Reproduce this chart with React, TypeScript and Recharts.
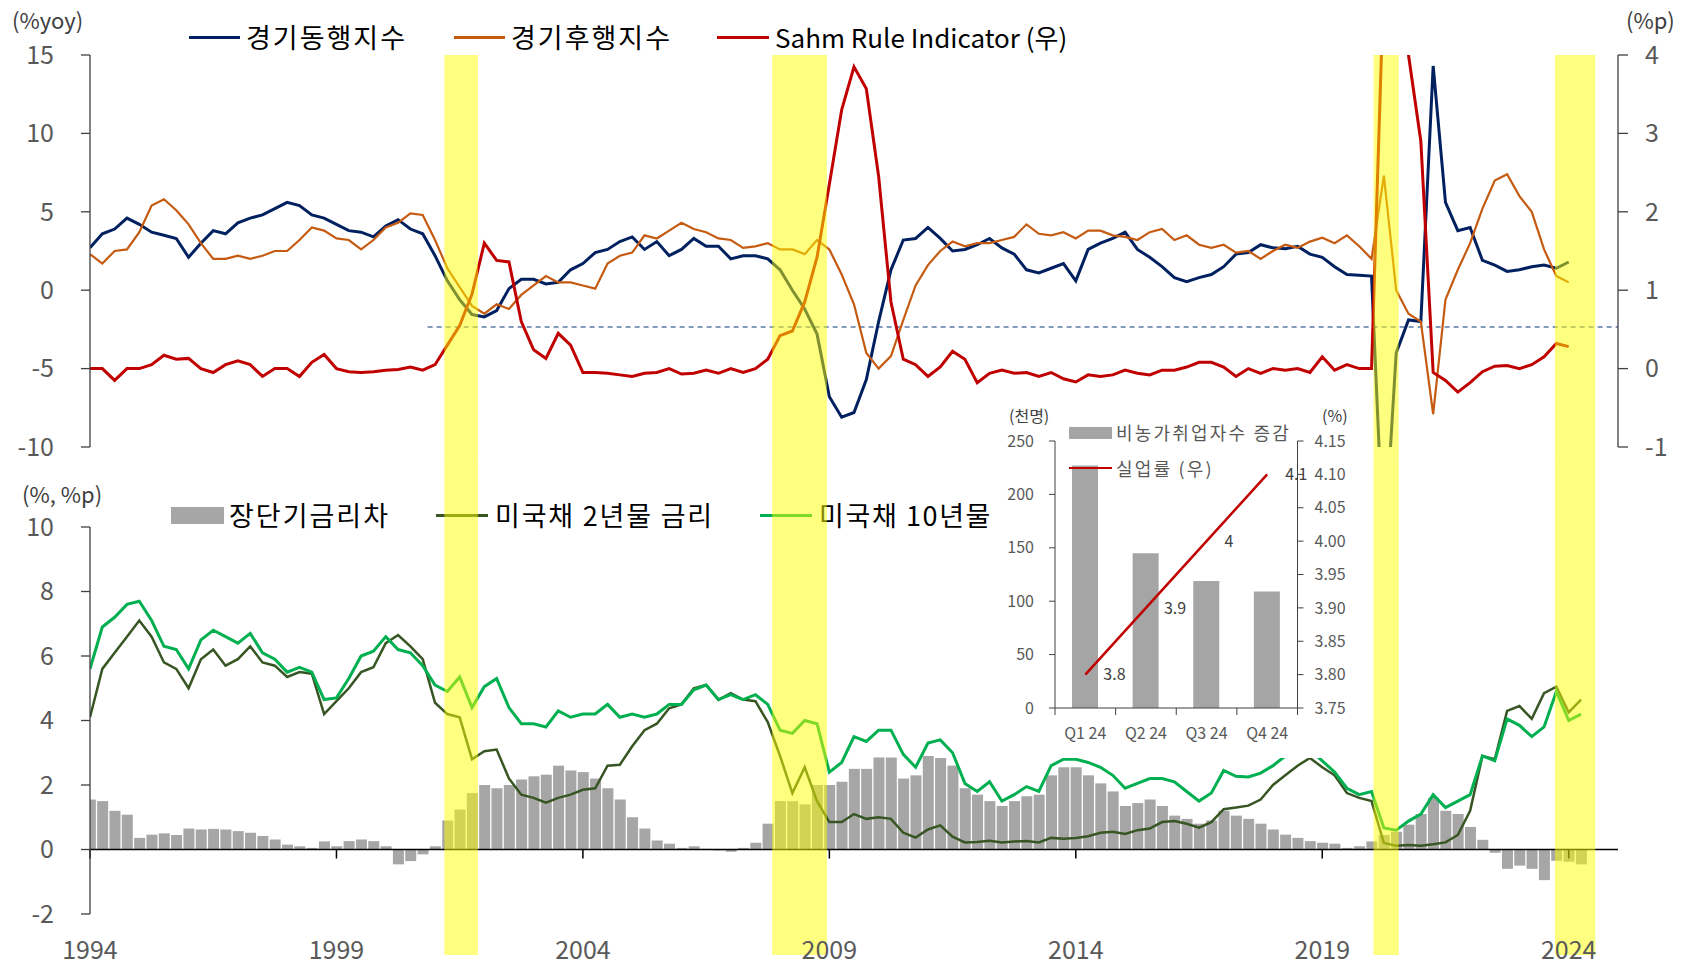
import React from "react";
import {
  Bar,
  ComposedChart,
  LabelList,
  Line,
  ReferenceArea,
  ReferenceLine,
  XAxis,
  YAxis,
} from "recharts";

const FONT = "'Noto Sans CJK KR', 'Noto Sans', sans-serif";

// quarterly observation dates, 1994Q1 .. 2024Q2
const dates = Array.from({ length: 122 }, (_, i) => 1994 + i * 0.25);

// 경기동행지수 (%yoy)
const coincident = [
  2.7, 3.6, 3.9, 4.6, 4.2, 3.7, 3.5, 3.3, 2.1, 3.0, 3.8, 3.6, 4.3, 4.6, 4.8, 5.2,
  5.6, 5.4, 4.8, 4.6, 4.2, 3.8, 3.7, 3.4, 4.1, 4.5, 3.9, 3.6, 2.2, 0.6, -0.6, -1.55,
  -1.7, -1.3, 0.1, 0.7, 0.7, 0.4, 0.5, 1.3, 1.7, 2.4, 2.6, 3.1, 3.4, 2.6, 3.1, 2.2,
  2.6, 3.3, 2.8, 2.8, 2.0, 2.2, 2.2, 2.0, 1.3, 0.0, -1.2, -2.8, -6.8, -8.1, -7.8, -5.7,
  -2.0, 1.3, 3.2, 3.3, 4.0, 3.3, 2.5, 2.6, 2.9, 3.3, 2.7, 2.3, 1.3, 1.1, 1.4, 1.7,
  0.6, 2.6, 3.0, 3.3, 3.7, 2.6, 2.1, 1.5, 0.8, 0.55, 0.8, 1.0, 1.5, 2.3, 2.4, 2.9,
  2.7, 2.65, 2.8, 2.3, 2.1, 1.5, 1.0, 0.95, 0.9, -17.0, -4.0, -1.9, -2.0, 14.3, 5.6, 3.8,
  4.0, 1.9, 1.6, 1.2, 1.3, 1.5, 1.6, 1.4, 1.8, null,
];

// 경기후행지수 (%yoy)
const lagging = [
  2.3, 1.7, 2.5, 2.6, 3.7, 5.4, 5.8, 5.1, 4.2, 3.0, 2.0, 2.0, 2.2, 2.0, 2.2, 2.5,
  2.5, 3.2, 4.0, 3.8, 3.3, 3.2, 2.6, 3.2, 4.0, 4.3, 4.9, 4.8, 3.2, 1.4, 0.2, -1.0,
  -1.5, -0.9, -1.2, -0.3, 0.3, 0.9, 0.5, 0.5, 0.3, 0.1, 1.7, 2.2, 2.4, 3.5, 3.3, 3.8,
  4.3, 3.9, 3.7, 3.3, 3.2, 2.7, 2.8, 3.0, 2.6, 2.6, 2.3, 3.2, 2.6, 1.0, -0.9, -4.0,
  -5.0, -4.2, -1.9, 0.3, 1.6, 2.5, 3.1, 2.8, 3.0, 3.0, 3.2, 3.4, 4.2, 3.6, 3.5, 3.7,
  3.3, 3.8, 3.8, 3.5, 3.4, 3.2, 3.7, 3.9, 3.2, 3.5, 2.9, 2.7, 2.9, 2.4, 2.5, 2.0,
  2.5, 2.9, 2.7, 3.1, 3.35, 3.0, 3.5, 2.8, 2.0, 7.3, 0.0, -1.5, -2.0, -7.9, -0.6, 1.3,
  3.0, 5.2, 7.0, 7.4, 6.0, 5.0, 2.6, 0.9, 0.5, null,
];

// Sahm Rule Indicator (%p, right axis)
const sahm = [
  0.0, 0.0, -0.15, 0.0, 0.0, 0.05, 0.17, 0.12, 0.13, 0.0, -0.05, 0.05, 0.1, 0.05, -0.1, 0.0,
  0.0, -0.1, 0.08, 0.18, 0.0, -0.04, -0.05, -0.04, -0.02, -0.01, 0.02, -0.02, 0.05, 0.3, 0.55, 0.95,
  1.6, 1.38, 1.36, 0.6, 0.24, 0.13, 0.45, 0.3, -0.05, -0.05, -0.06, -0.08, -0.1, -0.06, -0.05, 0.0,
  -0.07, -0.06, -0.02, -0.06, 0.0, -0.05, 0.0, 0.12, 0.42, 0.48, 0.85, 1.42, 2.35, 3.3, 3.85, 3.57,
  2.45, 0.85, 0.12, 0.05, -0.1, 0.02, 0.22, 0.12, -0.18, -0.06, -0.02, -0.06, -0.05, -0.1, -0.05, -0.13,
  -0.17, -0.08, -0.1, -0.08, -0.02, -0.06, -0.08, -0.02, -0.02, 0.02, 0.08, 0.08, 0.02, -0.1, 0.0, -0.06,
  0.0, -0.02, 0.0, -0.05, 0.15, -0.02, 0.05, 0.0, 0.0, 5.0, 9.3, 4.0, 2.9, -0.05, -0.15, -0.3,
  -0.18, -0.04, 0.03, 0.04, 0.0, 0.05, 0.15, 0.32, 0.28, null,
];

// 미국채 10년물 (%)
const ust10y = [
  5.6, 6.9, 7.2, 7.6, 7.7, 7.1, 6.3, 6.2, 5.6, 6.5, 6.8, 6.6, 6.4, 6.7, 6.1, 5.9,
  5.5, 5.65, 5.5, 4.65, 4.7, 5.3, 6.0, 6.15, 6.6, 6.2, 6.1, 5.7, 5.1, 4.9, 5.35, 4.4,
  5.05, 5.3, 4.4, 3.9, 3.9, 3.8, 4.3, 4.1, 4.2, 4.2, 4.5, 4.1, 4.2, 4.1, 4.2, 4.5,
  4.5, 4.95, 5.1, 4.65, 4.8, 4.65, 4.8, 4.5, 3.7, 3.6, 4.0, 3.9, 2.4, 2.7, 3.5, 3.35,
  3.7, 3.7, 2.95, 2.55, 3.3, 3.4, 3.0, 2.05, 1.8, 2.1, 1.5, 1.7, 1.95, 1.8, 2.6, 2.8,
  2.8, 2.7, 2.55, 2.3, 1.9, 2.05, 2.2, 2.2, 2.1, 1.8, 1.5, 1.75, 2.45, 2.27, 2.25, 2.37,
  2.6, 2.9, 2.95, 3.1, 2.75, 2.4, 1.9, 1.7, 1.8, 0.67, 0.6, 0.88, 1.1, 1.7, 1.3, 1.5,
  1.7, 2.9, 2.75, 4.05, 3.85, 3.5, 3.8, 4.9, 4.0, 4.2,
];

// 미국채 2년물 금리 (%)
const ust2y = [
  4.1, 5.6, 6.1, 6.6, 7.1, 6.6, 5.8, 5.6, 5.0, 5.9, 6.2, 5.7, 5.9, 6.3, 5.8, 5.7,
  5.35, 5.5, 5.45, 4.2, 4.6, 5.0, 5.5, 5.65, 6.4, 6.65, 6.3, 5.9, 4.55, 4.2, 4.1, 2.8,
  3.05, 3.1, 2.2, 1.7, 1.6, 1.45, 1.6, 1.7, 1.85, 1.9, 2.6, 2.63, 3.2, 3.7, 3.9, 4.38,
  4.5, 5.0, 5.1, 4.64, 4.85, 4.65, 4.6, 3.95, 2.9, 1.75, 2.55, 1.5, 0.85, 0.85, 1.1, 0.95,
  1.0, 0.95, 0.52, 0.37, 0.62, 0.75, 0.4, 0.22, 0.23, 0.27, 0.22, 0.25, 0.26, 0.22, 0.36, 0.33,
  0.36, 0.41, 0.52, 0.55, 0.48, 0.6, 0.65, 0.85, 0.88, 0.8, 0.68, 0.85, 1.25, 1.3, 1.36, 1.55,
  2.0, 2.3, 2.6, 2.84, 2.55, 2.3, 1.75, 1.6, 1.5, 0.2, 0.12, 0.14, 0.12, 0.16, 0.22, 0.45,
  1.2, 2.9, 2.8, 4.3, 4.45, 4.05, 4.85, 5.05, 4.25, 4.65,
];

// 장단기금리차 (%p)
const spread = [
  1.55, 1.5, 1.2, 1.08, 0.36, 0.46, 0.5, 0.45, 0.65, 0.62, 0.64, 0.62, 0.57, 0.52, 0.42, 0.31,
  0.15, 0.1, 0.05, 0.25, 0.1, 0.26, 0.31, 0.26, 0.1, -0.46, -0.36, -0.15, 0.1, 0.9, 1.24, 1.75,
  2.0, 1.9, 2.0, 2.17, 2.27, 2.32, 2.6, 2.45, 2.4, 2.2, 1.9, 1.55, 1.0, 0.65, 0.28, 0.18,
  0.05, 0.1, 0.02, -0.03, -0.07, 0.05, 0.21, 0.8, 1.5, 1.5, 1.4, 2.0, 2.0, 2.1, 2.5, 2.5,
  2.85, 2.85, 2.2, 2.3, 2.9, 2.84, 2.6, 1.9, 1.7, 1.5, 1.35, 1.5, 1.65, 1.7, 2.3, 2.55,
  2.55, 2.3, 2.05, 1.8, 1.35, 1.44, 1.55, 1.35, 1.05, 0.95, 0.8, 0.9, 1.2, 1.05, 0.95, 0.8,
  0.62, 0.46, 0.36, 0.26, 0.21, 0.18, 0.05, 0.1, 0.25, 0.45, 0.55, 0.77, 1.1, 1.6, 1.2, 1.1,
  0.7, 0.3, -0.1, -0.6, -0.5, -0.6, -0.95, -0.35, -0.38, -0.46,
];

const recessions = [
  [2001.19, 2001.87],
  [2007.84, 2008.95],
  [2020.04, 2020.55],
  [2023.72, 2024.54],
];
const yearTicks = [1994, 1999, 2004, 2009, 2014, 2019, 2024];

// inset: 비농가취업자수 증감 (천명), 실업률 (%)
const insetQuarters = ["Q1 24", "Q2 24", "Q3 24", "Q4 24"];
const payrolls = [227, 145, 119, 109];
const unemployment = [3.8, 3.9, 4.0, 4.1];

const rows = dates.map((d, i) => ({
  d,
  coincident: coincident[i],
  lagging: lagging[i],
  sahm: sahm[i],
  ust10y: ust10y[i],
  ust2y: ust2y[i],
  spread: spread[i],
}));

const insetRows = insetQuarters.map((q, i) => ({
  x: i + 0.5,
  q,
  payrolls: payrolls[i],
  unemployment: unemployment[i],
}));

const DOMAIN: [number, number] = [1994, 2025];
const tickStyle = { fill: "#595959", fontSize: 25, fontFamily: FONT };
const axisStroke = { stroke: "#404040", strokeWidth: 1.3 };
const BAND = { fill: "#FFFF00", fillOpacity: 0.5, stroke: "none", ifOverflow: "visible" as const, zIndex: 1500 };

function abs(left: number, top: number, extra: React.CSSProperties = {}): React.CSSProperties {
  return { position: "absolute", left, top, ...extra };
}

function LegendText({ x, cy, size, color, spacing = 0, children }: any) {
  return (
    <div
      style={abs(x, cy - 18, {
        fontSize: size,
        lineHeight: "36px",
        height: 36,
        color,
        letterSpacing: spacing,
        whiteSpace: "nowrap",
        fontFamily: FONT,
      })}
    >
      {children}
    </div>
  );
}

function Swatch({ x, cy, w, h, color }: any) {
  return <div style={abs(x, cy - h / 2, { width: w, height: h, background: color })} />;
}

function InsetTick(props: any) {
  const { x, y, payload } = props;
  const v = payload.value as number;
  if (Number.isInteger(v)) {
    return <line x1={x} x2={x} y1={y} y2={y + 7} stroke="#404040" strokeWidth={1} />;
  }
  return (
    <text x={x} y={y + 25} dy="0.35em" textAnchor="middle" fill="#595959" fontSize={16} fontFamily={FONT}>
      {insetQuarters[Math.floor(v)]}
    </text>
  );
}

function TopPanel() {
  return (
    <ComposedChart width={1687} height={470} data={rows} margin={{ top: 55, right: 0, bottom: 23, left: 0 }}>
      <XAxis type="number" dataKey="d" domain={DOMAIN} hide allowDataOverflow />
      <YAxis
        yAxisId="l"
        domain={[-10, 15]}
        ticks={[-10, -5, 0, 5, 10, 15]}
        width={90}
        allowDataOverflow
        tickSize={9}
        tickMargin={27}
        axisLine={axisStroke}
        tickLine={axisStroke}
        tick={tickStyle}
      />
      <YAxis
        yAxisId="r"
        orientation="right"
        domain={[-1, 4]}
        ticks={[-1, 0, 1, 2, 3, 4]}
        width={69}
        allowDataOverflow
        tickSize={10}
        tickMargin={17}
        axisLine={axisStroke}
        tickLine={axisStroke}
        tick={tickStyle}
      />
      <ReferenceLine
        yAxisId="r"
        segment={[
          { x: 2000.85, y: 0.53 },
          { x: 2025, y: 0.53 },
        ]}
        stroke="#5A7BA8"
        strokeWidth={1.5}
        strokeDasharray="5 4"
      />
      <Line yAxisId="l" dataKey="coincident" stroke="#002060" strokeWidth={3} dot={false} isAnimationActive={false} />
      <Line yAxisId="l" dataKey="lagging" stroke="#C55A11" strokeWidth={2.2} dot={false} isAnimationActive={false} />
      <Line yAxisId="r" dataKey="sahm" stroke="#C00000" strokeWidth={3} dot={false} isAnimationActive={false} />
      {/* recession bands, reaching down to where the lower panel begins */}
      {recessions.map(([a, b]) => (
        <ReferenceArea key={a} yAxisId="l" x1={a} x2={b} y1={-10.84} y2={15} {...BAND} />
      ))}
    </ComposedChart>
  );
}

function BottomPanel() {
  return (
    <ComposedChart width={1687} height={526} data={rows} margin={{ top: 67, right: 69, bottom: 20, left: 0 }}>
      <XAxis
        type="number"
        dataKey="d"
        domain={DOMAIN}
        ticks={yearTicks}
        interval={0}
        allowDataOverflow
        axisLine={false}
        tickLine={false}
        tickSize={0}
        tickMargin={27}
        height={52}
        tick={tickStyle}
      />
      <YAxis
        domain={[-2, 10]}
        ticks={[-2, 0, 2, 4, 6, 8, 10]}
        width={90}
        tickSize={9}
        tickMargin={27}
        axisLine={axisStroke}
        tickLine={axisStroke}
        tick={tickStyle}
      />
      <Bar dataKey="spread" fill="#A6A6A6" barSize={11} isAnimationActive={false} />
      <ReferenceLine y={0} stroke="#000" strokeWidth={1.5} />
      {yearTicks.map((yr) => (
        <ReferenceLine
          key={yr}
          segment={[
            { x: yr, y: 0 },
            { x: yr, y: -0.28 },
          ]}
          stroke="#000"
          strokeWidth={1.5}
        />
      ))}
      <Line dataKey="ust2y" stroke="#375623" strokeWidth={2.5} dot={false} isAnimationActive={false} />
      <Line dataKey="ust10y" stroke="#00B050" strokeWidth={3} dot={false} isAnimationActive={false} />
      {recessions.map(([a, b]) => (
        <ReferenceArea key={a} x1={a} x2={b} y1={-3.27} y2={12.07} {...BAND} />
      ))}
    </ComposedChart>
  );
}

function Inset() {
  const small = { fill: "#595959", fontSize: 16, fontFamily: FONT };
  const thin = { stroke: "#404040", strokeWidth: 1 };
  const legend: React.CSSProperties = {
    fontSize: 18,
    letterSpacing: 2.2,
    color: "#595959",
    lineHeight: "24px",
    whiteSpace: "nowrap",
    fontFamily: FONT,
  };
  return (
    <div style={abs(995, 398, { width: 362, height: 360, background: "#fff" })}>
      <ComposedChart width={362} height={360} data={insetRows} margin={{ top: 43, right: 2, bottom: 0, left: 0 }}>
        <XAxis
          type="number"
          dataKey="x"
          domain={[0, 4]}
          ticks={[0, 0.5, 1, 1.5, 2, 2.5, 3, 3.5, 4]}
          interval={0}
          tickLine={false}
          tickSize={0}
          tickMargin={0}
          axisLine={thin}
          height={50}
          tick={(p: any) => <InsetTick {...p} />}
        />
        <YAxis
          yAxisId="l"
          domain={[0, 250]}
          ticks={[0, 50, 100, 150, 200, 250]}
          width={60}
          tickSize={6}
          tickMargin={15}
          axisLine={thin}
          tickLine={thin}
          tick={small}
        />
        <YAxis
          yAxisId="r"
          orientation="right"
          domain={[3.75, 4.15]}
          ticks={[3.75, 3.8, 3.85, 3.9, 3.95, 4, 4.05, 4.1, 4.15]}
          tickFormatter={(v: number) => v.toFixed(2)}
          width={57.5}
          tickSize={6}
          tickMargin={11}
          axisLine={thin}
          tickLine={thin}
          tick={small}
        />
        <Bar yAxisId="l" dataKey="payrolls" fill="#A5A5A5" barSize={26} isAnimationActive={false} />
        <Line
          yAxisId="r"
          dataKey="unemployment"
          stroke="#C00000"
          strokeWidth={2.5}
          dot={false}
          isAnimationActive={false}
        >
          <LabelList dataKey="unemployment" position="right" offset={18} fill="#404040" fontSize={16} fontFamily={FONT} />
        </Line>
      </ComposedChart>
      <div style={abs(14, 5, { fontSize: 16, color: "#404040", lineHeight: "24px", fontFamily: FONT })}>(천명)</div>
      <div style={abs(327, 5, { fontSize: 16, color: "#404040", lineHeight: "24px", fontFamily: FONT })}>(%)</div>
      <div style={abs(74, 29, { width: 43, height: 12, background: "#A5A5A5" })} />
      <div style={abs(121, 22, legend)}>비농가취업자수 증감</div>
      <div style={abs(74, 68.5, { width: 43, height: 2.5, background: "#C00000" })} />
      <div style={abs(121, 58, legend)}>실업률 (우)</div>
    </div>
  );
}

export default function App() {
  return (
    <div style={abs(0, 0, { width: 1687, height: 966, background: "#fff", fontFamily: FONT, overflow: "hidden" })}>
      <LegendText x={12} cy={19} size={22} color="#404040">(%yoy)</LegendText>
      <LegendText x={1626} cy={19} size={22} color="#404040">(%p)</LegendText>
      <LegendText x={22} cy={493} size={22} color="#404040">(%, %p)</LegendText>

      <Swatch x={189} cy={37} w={51} h={3} color="#002060" />
      <LegendText x={246} cy={37} size={27} spacing={2} color="#000">경기동행지수</LegendText>
      <Swatch x={454} cy={37} w={51} h={3} color="#C55A11" />
      <LegendText x={511} cy={37} size={27} spacing={2} color="#000">경기후행지수</LegendText>
      <Swatch x={717} cy={37} w={52} h={3} color="#C00000" />
      <LegendText x={775} cy={37} size={26} color="#000">Sahm Rule Indicator (우)</LegendText>

      {/* lower legend sits beneath the chart layers so the bands tint it */}
      <Swatch x={171} cy={515} w={53} h={17} color="#A6A6A6" />
      <LegendText x={229} cy={515} size={27} spacing={2} color="#000">장단기금리차</LegendText>
      <Swatch x={436} cy={515} w={52} h={3} color="#375623" />
      <LegendText x={495} cy={515} size={27} spacing={1.8} color="#000">미국채 2년물 금리</LegendText>
      <Swatch x={760} cy={515} w={52} h={3} color="#00B050" />
      <LegendText x={819} cy={515} size={27} spacing={1.6} color="#000">미국채 10년물</LegendText>

      <div style={abs(0, 0)}>
        <TopPanel />
      </div>
      <div style={abs(0, 460)}>
        <BottomPanel />
      </div>
      <Inset />
    </div>
  );
}
